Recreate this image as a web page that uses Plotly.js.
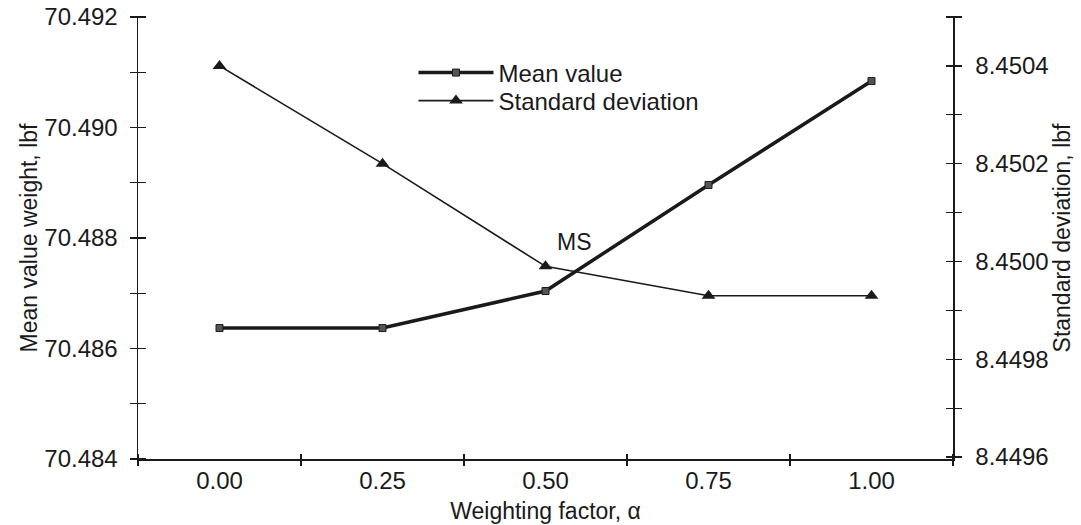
<!DOCTYPE html>
<html>
<head>
<meta charset="utf-8">
<script src="https://cdn.plot.ly/plotly-3.0.1.min.js"></script>
<style>html,body{margin:0;padding:0;background:#fff;}#chart{width:1081px;height:525px;}</style>
</head>
<body>
<div id="chart"></div>
<script>
// Data
const alpha = [0.00, 0.25, 0.50, 0.75, 1.00];
const alphaLabels = ['0.00', '0.25', '0.50', '0.75', '1.00'];
const alphaBounds = [-0.125, 0.125, 0.375, 0.625, 0.875, 1.125];
const meanValue = [70.48637, 70.48637, 70.48704, 70.48896, 70.49084];
const stdDev = [8.45040, 8.45020, 8.44999, 8.44993, 8.44993];
const leftTickVals = [70.484, 70.485, 70.486, 70.487, 70.488, 70.489, 70.490, 70.491, 70.492];
const leftTickText = ['70.484', '', '70.486', '', '70.488', '', '70.490', '', '70.492'];
const rightTickVals = [8.4496, 8.4497, 8.4498, 8.4499, 8.4500, 8.4501, 8.4502, 8.4503, 8.4504, 8.4505];
const rightTickText = ['8.4496', '', '8.4498', '', '8.4500', '', '8.4502', '', '8.4504', ''];

const F = 'Arial, "Liberation Sans", Helvetica, sans-serif';
const INK = '#1a1a1a';
const FT = 24;   // tick labels, legend
const FA = 23;   // axis titles
const xRange = [-0.125, 1.125];
const yRange = [70.484, 70.492];
const y2Range = [8.449596, 8.4505];

const W = 1081, H = 525, ML = 138, MR = 128, MT = 17, MB = 66;
const PW = W - ML - MR, PH = H - MT - MB;
const HALF = 8;   // half tick length (ticks cross the axis line)

const blank = (xa, ya) => ({x: [null], y: [null], xaxis: xa, yaxis: ya, type: 'scatter', mode: 'markers',
  showlegend: false, hoverinfo: 'skip'});

const traces = [
  {
    x: alpha, y: meanValue, name: 'Mean value', type: 'scatter', mode: 'lines+markers',
    xaxis: 'x', yaxis: 'y', legend: 'legend',
    line: {color: INK, width: 3.5},
    marker: {symbol: 'square', size: 7, color: '#555', line: {color: INK, width: 1}}
  },
  {
    x: alpha, y: stdDev, name: 'Standard deviation', type: 'scatter', mode: 'lines+markers',
    xaxis: 'x', yaxis: 'y2', legend: 'legend2',
    line: {color: INK, width: 1.6},
    marker: {symbol: 'triangle-up', size: 12, color: INK}
  },
  blank('x2', 'y'), blank('x', 'y3'), blank('x', 'y4')
];

const baseY = {showgrid: false, zeroline: false, fixedrange: true};
const legendBase = {xanchor: 'left', yanchor: 'middle', bgcolor: 'rgba(0,0,0,0)',
  font: {family: F, size: FT, color: INK}, itemwidth: 75};
const layout = {
  width: W, height: H,
  margin: {l: ML, r: MR, t: MT, b: MB},
  paper_bgcolor: '#fff', plot_bgcolor: 'rgba(0,0,0,0)',
  font: {family: F, size: FT, color: INK},
  showlegend: true,
  legend: Object.assign({}, legendBase, {x: 0.338, y: (H - MB - 73) / PH}),
  legend2: Object.assign({}, legendBase, {x: 0.338, y: (H - MB - 101) / PH}),
  xaxis: {
    range: xRange, showgrid: false, zeroline: false,
    showline: true, linecolor: INK, linewidth: 1.5,
    tickmode: 'array', tickvals: alpha, ticktext: alphaLabels, ticks: '',
    tickfont: {family: F, size: FT, color: INK}, ticklabelstandoff: 0,
    title: {text: 'Weighting factor, α', font: {family: F, size: FA, color: INK}, standoff: 9}
  },
  xaxis2: {
    overlaying: 'x', anchor: 'free', position: HALF / PH * 0.75, side: 'bottom', range: xRange,
    showgrid: false, zeroline: false, showline: false,
    tickmode: 'array', tickvals: alphaBounds, ticktext: alphaBounds.map(() => ''),
    ticks: 'outside', ticklen: 12, tickwidth: 1.3, tickcolor: INK
  },
  yaxis: Object.assign({}, baseY, {
    range: yRange, showline: true, linecolor: INK, linewidth: 1.5,
    tickmode: 'array', tickvals: leftTickVals, ticktext: leftTickText, ticks: '',
    tickfont: {family: F, size: FT, color: INK}, ticklabelstandoff: 14,
    title: {text: 'Mean value weight, lbf', font: {family: F, size: FA, color: INK}, standoff: 0}
  }),
  yaxis2: Object.assign({}, baseY, {
    overlaying: 'y', side: 'right', anchor: 'x',
    range: y2Range, showline: true, linecolor: INK, linewidth: 1.5,
    tickmode: 'array', tickvals: rightTickVals, ticktext: rightTickText, ticks: '',
    tickfont: {family: F, size: FT, color: INK}, ticklabelstandoff: 16,
    title: {text: 'Standard deviation, lbf', font: {family: F, size: FA, color: INK}, standoff: 6}
  }),
  yaxis3: Object.assign({}, baseY, {
    overlaying: 'y', side: 'left', anchor: 'free', position: HALF / PW, range: yRange, showline: false,
    tickmode: 'array', tickvals: leftTickVals, ticktext: leftTickVals.map(() => ''),
    ticks: 'outside', ticklen: 2 * HALF, tickwidth: 1.3, tickcolor: INK
  }),
  yaxis4: Object.assign({}, baseY, {
    overlaying: 'y', side: 'right', anchor: 'free', position: 1 - HALF / PW, range: y2Range, showline: false,
    tickmode: 'array', tickvals: rightTickVals, ticktext: rightTickVals.map(() => ''),
    ticks: 'outside', ticklen: 2 * HALF, tickwidth: 1.3, tickcolor: INK
  }),
  annotations: [
    {text: 'MS', x: 0.545, y: 70.48793, xref: 'x', yref: 'y', showarrow: false,
     font: {family: F, size: FA, color: INK}}
  ]
};

Plotly.newPlot('chart', traces, layout, {staticPlot: true, displayModeBar: false});
</script>
</body>
</html>
